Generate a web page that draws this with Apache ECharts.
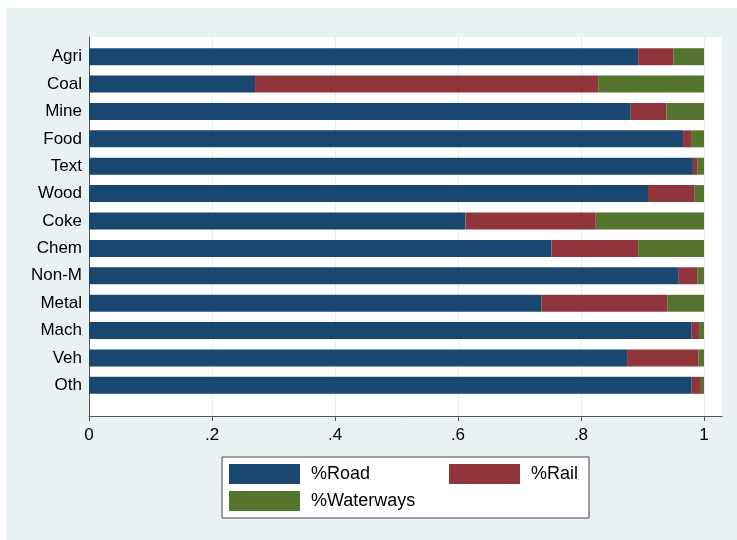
<!DOCTYPE html>
<html>
<head>
<meta charset="utf-8">
<script src="https://cdn.jsdelivr.net/npm/echarts@6/dist/echarts.min.js"></script>
<style>
  html, body { margin: 0; padding: 0; background: #fff; }
  #bg { position: absolute; left: 6px; top: 8px; width: 731px; height: 532px; background: #e9f1f3; }
  #chart { position: absolute; left: 0; top: 0; width: 737px; height: 540px; }
</style>
</head>
<body>
<div id="bg"></div>
<div id="chart"></div>
<script>
// sectors, top to bottom
const sectors = ['Agri', 'Coal', 'Mine', 'Food', 'Text', 'Wood', 'Coke', 'Chem', 'Non-M', 'Metal', 'Mach', 'Veh', 'Oth'];

// modal shares (fraction of total)
const road = [0.893, 0.270, 0.881, 0.966, 0.982, 0.909, 0.612, 0.752, 0.959, 0.736, 0.980, 0.875, 0.980];
const rail = [0.057, 0.558, 0.058, 0.013, 0.007, 0.076, 0.212, 0.141, 0.030, 0.205, 0.012, 0.116, 0.015];
const waterways = [0.050, 0.172, 0.061, 0.021, 0.011, 0.015, 0.176, 0.107, 0.011, 0.059, 0.008, 0.009, 0.005];

const xTicks = [0, 0.2, 0.4, 0.6, 0.8, 1];

const font = 'Liberation Sans, Arial, Helvetica, sans-serif';
const xMax = 1.0293;

const chart = echarts.init(document.getElementById('chart'));

const fmt = (v) => (v === 0 ? '0' : v === 1 ? '1' : String(+v.toFixed(1)).replace('0.', '.'));

chart.setOption({
  backgroundColor: 'transparent',
  animation: false,
  grid: [
    { left: 89, right: 15, top: 37, bottom: 124, show: true, backgroundColor: '#fff', borderWidth: 0 },
    { left: 89, right: 15, top: 43, bottom: 141 }
  ],
  xAxis: [
    {
      gridIndex: 0,
      type: 'value',
      min: 0,
      max: xMax,
      interval: 0.2,
      axisLine: { show: true, lineStyle: { color: '#555', width: 1 } },
      axisTick: { show: true, length: 5, customValues: xTicks, lineStyle: { color: '#555' } },
      axisLabel: {
        customValues: xTicks,
        formatter: fmt,
        color: '#000',
        fontSize: 17,
        fontFamily: font,
        margin: 11
      },
      splitLine: { show: true, lineStyle: { color: '#e6eef0', width: 1 } }
    },
    { gridIndex: 1, type: 'value', min: 0, max: xMax, show: false }
  ],
  yAxis: [
    {
      gridIndex: 0,
      type: 'value',
      min: 0,
      max: 1,
      axisLine: { show: true, lineStyle: { color: '#555', width: 1 } },
      axisTick: { show: false },
      axisLabel: { show: false },
      splitLine: { show: false }
    },
    {
      gridIndex: 1,
      type: 'category',
      inverse: true,
      data: sectors,
      axisLine: { show: false },
      axisTick: { show: false },
      axisLabel: { color: '#000', fontSize: 17, fontFamily: font, margin: 7 }
    }
  ],
  legend: {
    left: 222,
    top: 457,
    width: 352,
    padding: [7, 11, 7, 7],
    backgroundColor: '#fff',
    borderColor: '#444',
    borderWidth: 1,
    borderRadius: 0,
    itemWidth: 71,
    itemHeight: 20,
    itemGap: 7,
    icon: 'rect',
    formatter: (name) => (name === '%Road' ? '{w|' + name + '}' : name),
    textStyle: {
      fontSize: 18,
      fontFamily: font,
      color: '#000',
      padding: [0, 0, 0, 6],
      rich: {
        w: { width: 131, fontSize: 18, fontFamily: font, color: '#000', backgroundColor: 'rgba(255,255,255,0)' }
      }
    },
    data: ['%Road', '%Rail', '%Waterways']
  },
  series: [
    { name: '%Road', data: road, color: '#1a476f' },
    { name: '%Rail', data: rail, color: '#90353b' },
    { name: '%Waterways', data: waterways, color: '#55752f' }
  ].map((s) => ({
    ...s,
    type: 'bar',
    stack: 'mode',
    xAxisIndex: 1,
    yAxisIndex: 1,
    barWidth: 17,
    itemStyle: { color: s.color }
  }))
});
</script>
</body>
</html>
